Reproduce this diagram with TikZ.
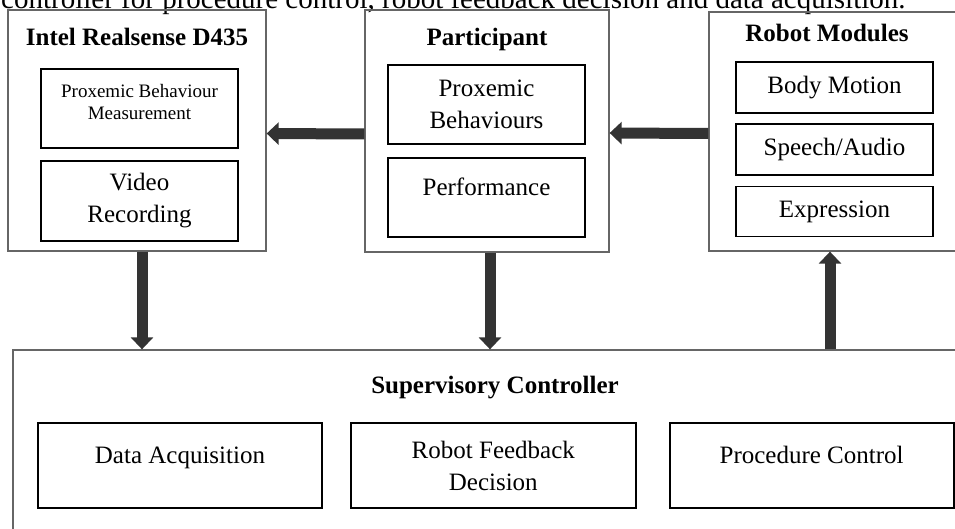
\documentclass[tikz,border=0pt]{standalone}
\usepackage{fontspec}
\setmainfont{Liberation Serif}
\usetikzlibrary{positioning,arrows.meta}

\begin{document}
\begin{tikzpicture}
    [x=1pt, y=-1pt,
    node distance=10pt,
    outer/.style={draw=black!60, line width=1.3pt, inner sep=0pt},
    inner/.style={draw=black, line width=1.8pt, inner sep=0pt, align=center,
        font=\fontsize{25}{32}\selectfont},
    title/.style={anchor=base, inner sep=0pt, font=\fontsize{25}{30}\selectfont\bfseries},
    raised/.style={text height=17pt, text depth=21pt},
    bigarrow/.style={line width=11pt, draw=black!80, -{Triangle[width=22pt,length=12pt]}}]
        \clip (0,0) rectangle (955,529);
        %% caption line cut at the top
        \node[anchor=base west, inner sep=0pt, font=\fontsize{29}{34}\selectfont] (caption) at (1,9)
            {controller for procedure control, robot feedback decision and data acquisition.};
        %% Camera
        \node[outer, minimum width=258pt, minimum height=241pt] (intel) at (137,130.5) {};
        \node[title] (inteltitle) at (137,46) {Intel Realsense D435};
        \node[inner, minimum width=197pt, minimum height=79pt, label={[name=pbmtxt, yshift=6pt,
            align=center, font=\fontsize{19}{22}\selectfont]center:Proxemic Behaviour\\Measurement}]
            (pbm) at (139.5,108.5) {};
        \node[inner, minimum width=197pt, minimum height=80pt, below=11pt of pbm] (video)
            {Video\\Recording};
        %% Participant
        \node[outer, minimum width=244pt, minimum height=242pt] (part) at (487,131) {};
        \node[title] (parttitle) at (487,46) {Participant};
        \node[inner, minimum width=197pt, minimum height=79pt] (pbeh) at (486.5,104.5)
            {Proxemic\\Behaviours};
        \node[inner, minimum width=197pt, minimum height=79pt, raised, below=12pt of pbeh] (perf)
            {Performance};
        %% Robot
        \node[outer, minimum width=266pt, minimum height=239pt] (robot) at (842,131.5) {};
        \node[title] (robottitle) at (827,42) {Robot Modules};
        \node[inner, minimum width=197pt, minimum height=51pt] (body) at (834.5,87.5) {Body Motion};
        \node[inner, minimum width=197pt, minimum height=51pt, below=9pt of body] (speech) {Speech/Audio};
        \node[inner, minimum width=197pt, minimum height=50pt, below=10pt of speech] (expr) {Expression};
        %% Controller
        \node[outer, minimum width=987pt, minimum height=250pt] (sup) at (506.5,475) {};
        \node[title] (suptitle) at (495,393) {Supervisory Controller};
        \node[inner, minimum width=284pt, minimum height=85pt, raised] (daq) at (180,465.5)
            {Data Acquisition};
        \node[inner, minimum width=285pt, minimum height=85pt, right=27pt of daq] (rfd)
            {Robot Feedback\\Decision};
        \node[inner, minimum width=284pt, minimum height=85pt, raised, right=32pt of rfd] (proc)
            {Procedure Control};

        \draw[bigarrow] ([yshift=-2pt]robot.west) to ([yshift=-2pt]part.east);
        \draw[bigarrow] ([yshift=-3pt]part.west) to ([yshift=-3pt]intel.east);
        \draw[bigarrow] ([xshift=5pt]intel.south) to ([xshift=5pt]intel.south |- sup.north);
        \draw[bigarrow] ([xshift=3pt]part.south) to ([xshift=3pt]part.south |- sup.north);
        \draw[bigarrow] ([xshift=-12pt]robot.south |- sup.north) to ([xshift=-12pt]robot.south);
    \end{tikzpicture}
\end{document}
